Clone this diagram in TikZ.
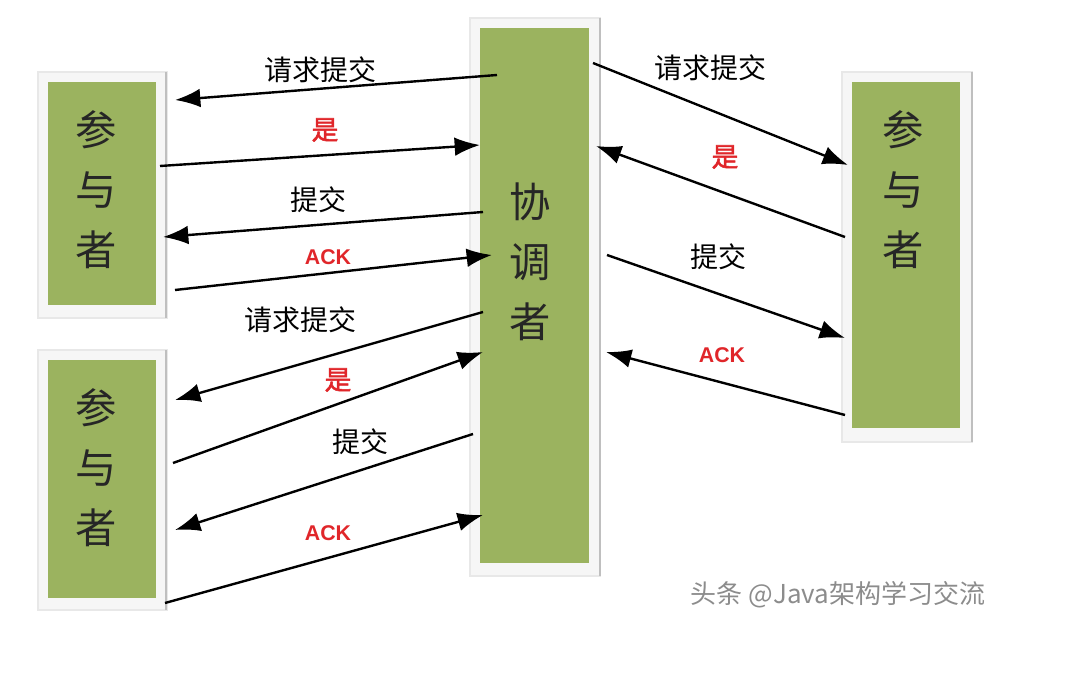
\documentclass[tikz,border=0pt]{standalone}
\usepackage{fontspec}
\setmainfont{Noto Sans CJK SC}
\newfontfamily\cjkb{Noto Sans CJK SC}[FakeBold=2]
\newfontfamily\lat{Liberation Sans}
\usetikzlibrary{arrows.meta}
\definecolor{grn}{HTML}{9BB35F}
\definecolor{redt}{HTML}{E0262A}
\begin{document}
\begin{tikzpicture}[x=0.75pt,y=-0.75pt,
  frame/.style={fill=gray!7,draw=gray!18,line width=1pt},
  box/.style={fill=grn,draw=none},
  big/.style={font=\fontsize{31}{45}\selectfont,align=center,text=black!85},
  arr/.style={line width=1.8pt,-{Latex[length=19pt,width=14pt]}},
  lbl/.style={font=\fontsize{21}{24}\selectfont},
  rl/.style={font=\cjkb\fontsize{20}{22}\selectfont,text=redt},
  ack/.style={font=\lat\bfseries\fontsize{16}{18}\selectfont,text=redt}]
\useasboundingbox (0,0) rectangle (1090,688);
% frames
\draw[frame] (38,72) rectangle (167,318);
\draw[frame] (38,350) rectangle (167,610);
\draw[frame] (470,18) rectangle (600,576);
\draw[frame] (842,72) rectangle (972,442);
\draw[gray!50,line width=1.5pt] (166,72)--(166,318) (166,350)--(166,610) (600,18)--(600,576) (972,72)--(972,442);
\fill[box] (48,82) rectangle (156,305);
\fill[box] (48,360) rectangle (156,598);
\fill[box] (480,28) rectangle (589,563);
\fill[box] (852,82) rectangle (960,428);
\node[big] (p1) at (96,190) {参\\与\\者};
\node[big] (p2) at (96,468) {参\\与\\者};
\node[big] (c) at (530,262) {协\\调\\者};
\node[big] (p3) at (903,190) {参\\与\\者};
% connector end points
\coordinate (a1) at (497,75); \coordinate (b1) at (175,100);
\coordinate (a2) at (160,166); \coordinate (b2) at (480,145);
\coordinate (a3) at (483,212); \coordinate (b3) at (163,237);
\coordinate (a4) at (175,290); \coordinate (b4) at (492,255);
\coordinate (a5) at (483,312); \coordinate (b5) at (175,400);
\coordinate (a6) at (173,463); \coordinate (b6) at (483,352);
\coordinate (a7) at (473,434); \coordinate (b7) at (175,530);
\coordinate (a8) at (165,603); \coordinate (b8) at (483,515);
\coordinate (a9) at (593,63); \coordinate (b9) at (848,165);
\coordinate (a10) at (845,237); \coordinate (b10) at (596,146);
\coordinate (a11) at (607,255); \coordinate (b11) at (845,338);
\coordinate (a12) at (845,415); \coordinate (b12) at (606,352);
\foreach \i in {1,...,12}{\draw[arr] (a\i)--(b\i);}
\node[lbl] (l1) at (320,70) {请求提交};
\node[rl] (l2) at (325,130) {是};
\node[lbl] (l3) at (318,200) {提交};
\node[ack] (l4) at (328,257) {ACK};
\node[lbl] (l5) at (300,320) {请求提交};
\node[rl] (l6) at (338,380) {是};
\node[lbl] (l7) at (360,442) {提交};
\node[ack] (l8) at (328,533) {ACK};
\node[lbl] (l9) at (710,68) {请求提交};
\node[rl] (l10) at (725,157) {是};
\node[lbl] (l11) at (718,257) {提交};
\node[ack] (l12) at (722,355) {ACK};
\node[font=\fontsize{19.5}{22}\selectfont,text=gray!90] (wm) at (838,595) {头条 @Java架构学习交流};
\end{tikzpicture}
\end{document}
